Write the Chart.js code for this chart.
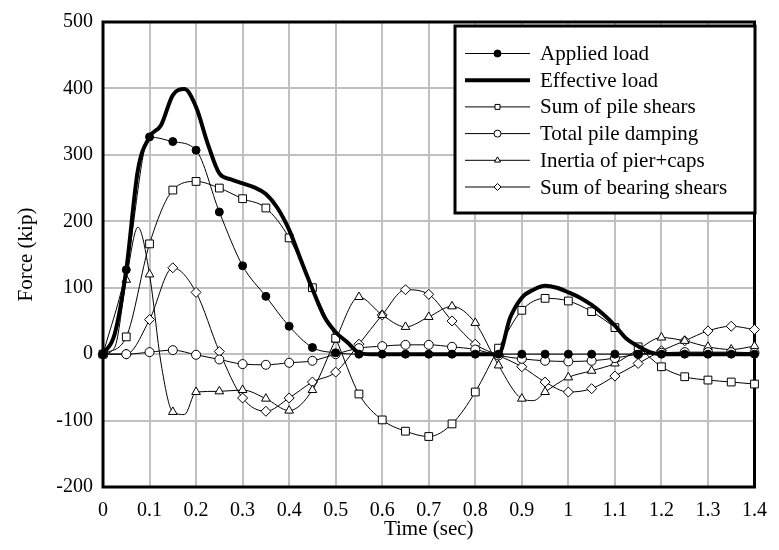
<!DOCTYPE html>
<html>
<head>
<meta charset="utf-8">
<script src="https://cdn.jsdelivr.net/npm/chart.js@4.4.1/dist/chart.umd.min.js"></script>
<style>
  html, body { margin: 0; padding: 0; background: #fff; }
</style>
</head>
<body>
<canvas id="chart" width="779" height="550"></canvas>
<script>
// Time axis (sec), every 0.025 s; markers sit on the 0.05 s points
const time = [
    0, 0.025, 0.05, 0.075,
    0.1, 0.125, 0.15, 0.175,
    0.2, 0.225, 0.25, 0.275,
    0.3, 0.325, 0.35, 0.375,
    0.4, 0.425, 0.45, 0.475,
    0.5, 0.525, 0.55, 0.575,
    0.6, 0.625, 0.65, 0.675,
    0.7, 0.725, 0.75, 0.775,
    0.8, 0.825, 0.85, 0.875,
    0.9, 0.925, 0.95, 0.975,
    1.0, 1.025, 1.05, 1.075,
    1.1, 1.125, 1.15, 1.175,
    1.2, 1.225, 1.25, 1.275,
    1.3, 1.325, 1.35, 1.375,
    1.4
]

// Forces (kip), null = no reading at that time
const appliedLoad = [
    0, null, 127, null,
    327, null, 320, null,
    307, null, 214, null,
    133, null, 87, null,
    42, null, 10, null,
    2, null, 0, null,
    0, null, 0, null,
    0, null, 0, null,
    0, null, 0, null,
    0, null, 0, null,
    0, null, 0, null,
    0, null, 0, null,
    0, null, 0, null,
    0, null, 0, null,
    0
]

const effectiveLoad = [
    0, 30, 127, 277,
    327, 345, 390, 399,
    372, 317, 272, 263,
    257, 251, 241, 220,
    187, 142, 98, 57,
    33, 18, 2, 0,
    0, 0, 0, 0,
    0, 0, 0, 0,
    0, 0, 0, 55,
    85, 97, 103, 100,
    93, 85, 74, 60,
    43, 23, 12, 3,
    0, 0, 0, 0,
    0, 0, 0, 0,
    0
]

const pileShears = [
    0, null, 26, null,
    166, null, 247, null,
    260, null, 250, null,
    234, null, 220, null,
    175, null, 100, null,
    24, null, -60, null,
    -99, null, -116, null,
    -124, null, -105, null,
    -57, null, 9, null,
    66, null, 84, null,
    80, null, 64, null,
    40, null, 11, null,
    -19, null, -34, null,
    -39, null, -42, null,
    -45
]

const pileDamping = [
    0, null, 0, null,
    3, null, 6, null,
    -1, null, -8, null,
    -15, null, -16, null,
    -13, null, -10, null,
    0, null, 9, null,
    12, null, 14, null,
    14, null, 11, null,
    7, null, -2, null,
    -7, null, -10, null,
    -11, null, -10, null,
    -6, null, 0, null,
    2, null, 3, null,
    3, null, 3, null,
    2
]

const pierInertia = [
    0, 10, 112, 191,
    120, -15, -87, -91,
    -57, null, -56, null,
    -54, null, -67, null,
    -85, null, -54, null,
    22, null, 86, null,
    59, null, 41, null,
    56, null, 72, null,
    47, null, -17, null,
    -67, -70, -57, null,
    -35, null, -25, null,
    -14, null, 7, null,
    25, null, 20, null,
    11, null, 7, null,
    12
]

const bearingShears = [
    0, null, 0, null,
    52, null, 130, null,
    93, null, 4, null,
    -66, null, -86, null,
    -66, null, -42, null,
    -27, null, 15, null,
    59, null, 97, null,
    90, null, 50, null,
    15, null, -2, null,
    -19, null, -42, null,
    -57, null, -52, null,
    -33, null, -14, null,
    5, null, 20, null,
    35, null, 42, null,
    37
]

const labels = [
    'Applied load',
    'Effective load',
    'Sum of pile shears',
    'Total pile damping',
    'Inertia of pier+caps',
    'Sum of bearing shears'
]

const FONT = "'Liberation Serif', 'Times New Roman', serif"



// pair the values with time
const series = (vals) => time.map((t, i) => ({ x: t, y: vals[i] }))

// only the 0.05 s points carry a marker
const markerRadius = (r) => (c) => c.dataIndex % 2 === 0 ? r : 0

const lineSet = (label, vals, style, fill, r) => ({
    label,
    data: series(vals),
    borderColor: '#000',
    borderWidth: 1,
    pointStyle: style,
    pointRadius: markerRadius(r),
    pointBackgroundColor: fill,
    pointBorderColor: '#000',
    pointBorderWidth: 1,
    legendMarker: true
})

// Frame around the plot
const frame = {
    id: 'frame',
    beforeDatasetsDraw(chart) {
        const { ctx, chartArea: a } = chart
        ctx.save()
        ctx.strokeStyle = '#000'
        ctx.lineWidth = 3
        ctx.strokeRect(a.left, a.top, a.right - a.left, a.bottom - a.top)
        ctx.restore()
    }
}

// Boxed legend inside the plot
const boxLegend = {
    id: 'boxLegend',
    afterDraw(chart) {
        const ctx = chart.ctx
        const box = { x: 455, y: 26, w: 300, h: 187 }

        ctx.save()
        ctx.fillStyle = '#fff'
        ctx.fillRect(box.x, box.y, box.w, box.h)
        ctx.strokeStyle = '#000'
        ctx.lineWidth = 3
        ctx.strokeRect(box.x, box.y, box.w, box.h)

        chart.data.datasets.forEach((ds, i) => {
            const y = box.y + 27.5 + i * 26.7

            // sample line
            ctx.strokeStyle = '#000'
            ctx.lineWidth = ds.borderWidth
            ctx.beginPath()
            ctx.moveTo(465, y)
            ctx.lineTo(530, y)
            ctx.stroke()

            // sample marker
            if (ds.legendMarker) {
                ctx.fillStyle = ds.pointBackgroundColor
                ctx.lineWidth = 1
                Chart.helpers.drawPoint(ctx, { pointStyle: ds.pointStyle, radius: 3.5, borderWidth: 1, rotation: 0 }, 497.5, y)
            }

            // text
            ctx.fillStyle = '#000'
            ctx.font = `21px ${FONT}`
            ctx.textBaseline = 'middle'
            ctx.textAlign = 'left'
            ctx.fillText(ds.label, 540, y + 1)
        })
        ctx.restore()
    }
}

// Create the chart
const createChart = () => {

    const ctx = document.getElementById('chart')

    new Chart(ctx, {
        type: 'line',
        data: {
            datasets: [
                lineSet(labels[0], appliedLoad, 'circle', '#000', 4),
                {
                    label: labels[1],
                    data: series(effectiveLoad),
                    borderColor: '#000',
                    borderWidth: 4,
                    pointRadius: 0,
                    legendMarker: false
                },
                lineSet(labels[2], pileShears, 'rect', '#fff', 5.5),
                lineSet(labels[3], pileDamping, 'circle', '#fff', 4.5),
                lineSet(labels[4], pierInertia, 'triangle', '#fff', 5),
                lineSet(labels[5], bearingShears, 'rectRot', '#fff', 5)
            ]
        },
        options: {
            responsive: false,
            animation: false,
            spanGaps: true,
            clip: 8,
            elements: {
                line: { cubicInterpolationMode: 'monotone' }
            },
            layout: { padding: { top: 18, right: 16, left: 0, bottom: 0 } },
            plugins: {
                legend: { display: false },
                tooltip: { enabled: false }
            },
            scales: {
                x: {
                    type: 'linear',
                    min: 0,
                    max: 1.4,
                    afterFit: (s) => { s.height = 63 },
                    border: { display: false },
                    grid: { color: '#c0c0c0', lineWidth: 2, drawTicks: false },
                    ticks: {
                        stepSize: 0.1,
                        padding: 12,
                        color: '#000',
                        font: { family: FONT, size: 20 },
                        maxRotation: 0,
                        callback: (v) => v.toFixed(1).replace(/\.0$/, '')
                    },
                    title: {
                        display: true,
                        text: 'Time (sec)',
                        color: '#000',
                        font: { family: FONT, size: 21 },
                        padding: { top: 0, bottom: 8 }
                    }
                },
                y: {
                    min: -200,
                    max: 500,
                    afterFit: (s) => { s.width = 103 },
                    border: { display: false },
                    grid: { color: '#c0c0c0', lineWidth: 2, drawTicks: false },
                    ticks: {
                        stepSize: 100,
                        padding: 10,
                        color: '#000',
                        font: { family: FONT, size: 20 }
                    },
                    title: {
                        display: true,
                        text: 'Force (kip)',
                        color: '#000',
                        font: { family: FONT, size: 21 },
                        padding: { top: 14, bottom: 0 }
                    }
                }
            }
        },
        plugins: [frame, boxLegend]
    })
}



createChart()
</script>
</body>
</html>
